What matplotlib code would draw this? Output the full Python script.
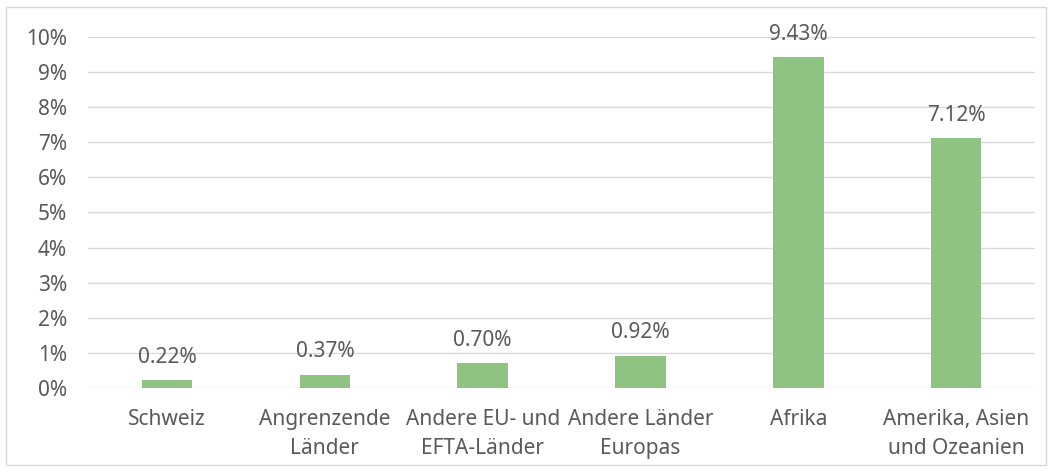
import matplotlib.pyplot as plt
from matplotlib.patches import Rectangle
from matplotlib.ticker import FuncFormatter

categories = ["Schweiz", "Angrenzende\nLänder", "Andere EU- und\nEFTA-Länder",
              "Andere Länder\nEuropas", "Afrika", "Amerika, Asien\nund Ozeanien"]
values = [0.22, 0.37, 0.70, 0.92, 9.43, 7.12]
yticks = list(range(0, 11))

txt = "#595959"
fs = 15
plt.rcParams['font.family'] = ['Noto Sans', 'DejaVu Sans']

fig = plt.figure(figsize=(10.52, 4.72), dpi=100)
ax = fig.add_axes([0.0837, 0.178, 0.9003, 0.7436])

x = range(len(categories))
bars = ax.bar(x, values, width=0.32, color="#8FC382", zorder=3)
for xi, v in zip(x, values):
    ax.annotate("%.2f%%" % v, (xi, v), xytext=(0, 9), textcoords="offset points",
                ha="center", va="bottom", fontsize=fs, color=txt)

ax.set_xlim(-0.5, len(categories) - 0.5)
ax.set_ylim(0, 10)
ax.set_yticks(yticks)
ax.yaxis.set_major_formatter(FuncFormatter(lambda v, p: "%d%%" % v))
ax.set_xticks(list(x))
ax.set_xticklabels(categories, fontsize=fs, color=txt, linespacing=1.5)
ax.tick_params(axis="y", labelsize=fs, labelcolor=txt, length=0, pad=15)
ax.tick_params(axis="x", length=0, pad=15)
ax.grid(axis="y", color="#d9d9d9", linewidth=1, zorder=0)
for s in ax.spines.values():
    s.set_visible(False)

fig.patches.append(Rectangle((6 / 1052, 7 / 472), 1040 / 1052, 458 / 472,
                             transform=fig.transFigure, fill=False,
                             edgecolor="#d9d9d9", linewidth=1))

fig.savefig("out.png", dpi=100)
